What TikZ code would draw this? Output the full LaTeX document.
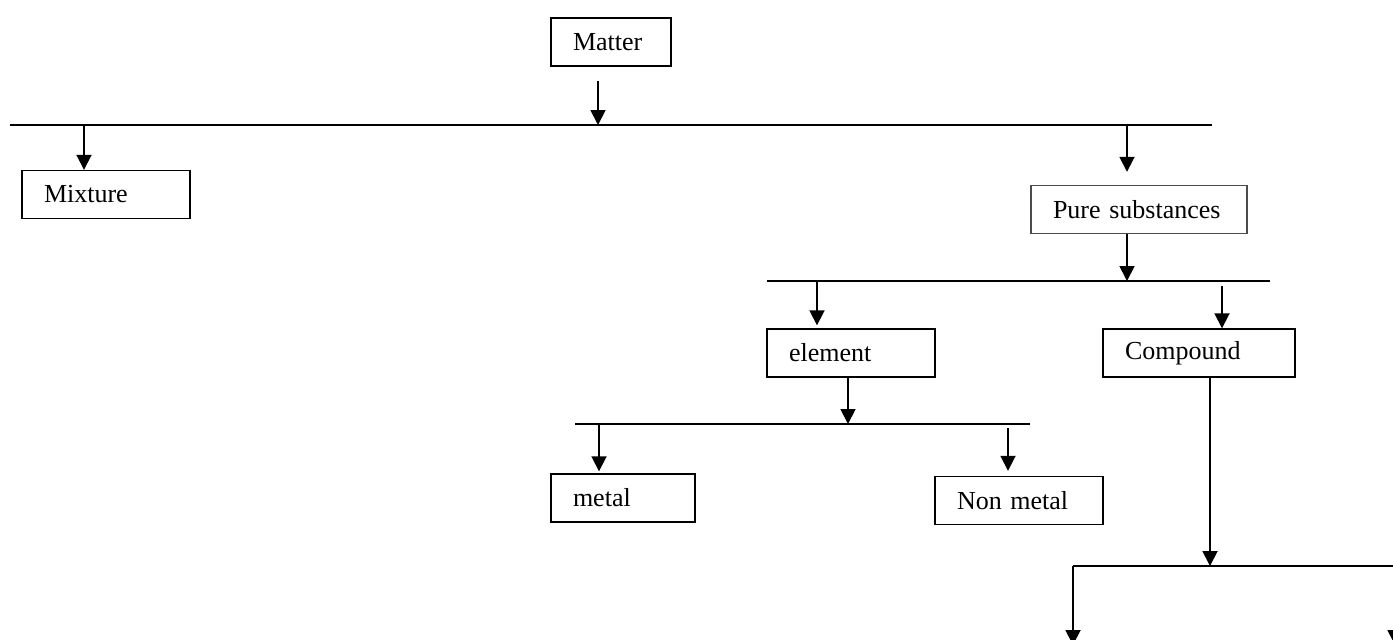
\documentclass[tikz,border=0pt]{standalone}
\usepackage{fontspec}
\setmainfont{Liberation Serif}
\usepackage{tikz}
\usetikzlibrary{arrows.meta, positioning, calc}
\tikzset{
  box/.style={rectangle, draw=black, fill=white, minimum height=24pt, inner xsep=11pt, align=left, font=\fontsize{13}{15}\selectfont, line width=0.7pt},
  arrow/.style={-{Triangle[width=7.5pt,length=7.5pt]}, line width=0.9pt},
  line/.style={line width=0.9pt}
}

\begin{document}
\begin{tikzpicture}[x=0.5pt, y=-0.5pt]
  \clip (0,0) rectangle (1393,639);

  % Boxes
  \node[box, minimum width=60pt, text width=38pt] (matter) at (611,42) {Matter};
  \node[box, minimum width=84pt, text width=62pt] (mixture) at (106,194.5) {Mixture};
  \node[box, minimum width=108pt, text width=86pt, draw=black!70] (pure) at (1139,209.5) {Pure substances};
  \node[box, minimum width=84pt, text width=62pt] (element) at (851,353) {element};
  \node[box, minimum width=96pt, text width=74pt] (compound) at (1199,353) {Compound};
  \node[box, minimum width=72pt, text width=50pt] (metal) at (623,498) {metal};
  \node[box, minimum width=84pt, text width=62pt] (nonmetal) at (1019,500.5) {Non metal};

  % Bars
  \coordinate (bar1w) at (10,125);   \coordinate (bar1e) at (1212,125);
  \coordinate (bar2w) at (767,281);  \coordinate (bar2e) at (1270,281);
  \coordinate (bar3w) at (575,424);  \coordinate (bar3e) at (1030,424);
  \coordinate (bar4w) at (1073,566); \coordinate (bar4e) at (1400,566);
  \draw[line] (bar1w) -- (bar1e);
  \draw[line] (bar2w) -- (bar2e);
  \draw[line] (bar3w) -- (bar3e);
  \draw[line] (bar4w) -- (bar4e);

  % Matter
  \draw[arrow] ([xshift=-6.5pt,yshift=-7pt]matter.south) -- ([xshift=-6.5pt]matter.south |- bar1w);
  \draw[arrow] ([xshift=-11pt]mixture.north |- bar1w) -- ([xshift=-11pt]mixture.north);
  \draw[arrow] ([xshift=-6pt]pure.north |- bar1e) -- ([xshift=-6pt,yshift=6.5pt]pure.north);

  % Pure substances
  \draw[arrow] ([xshift=-6pt]pure.south) -- ([xshift=-6pt]pure.south |- bar2w);
  \draw[arrow] ([xshift=-17pt]element.north |- bar2w) -- ([xshift=-17pt,yshift=1.5pt]element.north);
  \draw[arrow] ([xshift=11.5pt,yshift=-2.5pt]compound.north |- bar2e) -- ([xshift=11.5pt]compound.north);

  % element
  \draw[arrow] ([xshift=-1.5pt]element.south) -- ([xshift=-1.5pt]element.south |- bar3w);
  \draw[arrow] ([xshift=-12pt]metal.north |- bar3w) -- ([xshift=-12pt,yshift=1pt]metal.north);
  \draw[arrow] ([xshift=-5.5pt,yshift=-2pt]nonmetal.north |- bar3e) -- ([xshift=-5.5pt,yshift=2.5pt]nonmetal.north);

  % Compound
  \draw[arrow] ([xshift=5.5pt]compound.south) -- ([xshift=5.5pt]compound.south |- bar4w);
  \coordinate (leafa) at (1073,645);
  \coordinate (leafb) at (1395,645);
  \draw[arrow] (bar4w) -- (leafa);
  \draw[arrow] (leafb |- bar4e) -- (leafb);
\end{tikzpicture}
\end{document}
